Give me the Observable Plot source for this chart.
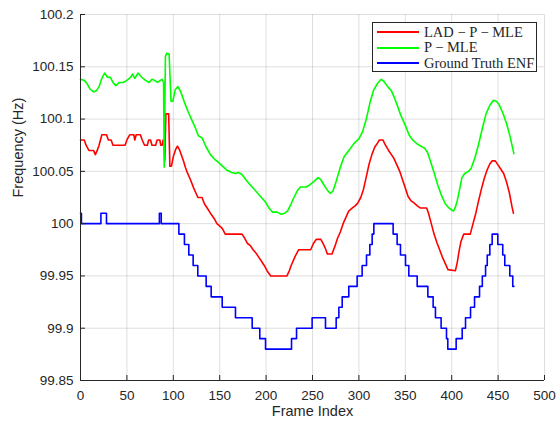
<!DOCTYPE html>
<html>
<head>
<meta charset="utf-8">
<script src="https://cdn.jsdelivr.net/npm/d3@7"></script>
<script src="https://cdn.jsdelivr.net/npm/@observablehq/plot@0.6"></script>
<style>
  html, body { margin: 0; padding: 0; background: #fff; }
  #wrap { position: relative; width: 557px; height: 423px; }
  #legend {
    position: absolute; left: 372px; top: 22px; width: 165px; height: 50px;
    border: 1px solid #262626; background: #fff; box-sizing: border-box;
    font-family: "Liberation Serif", "DejaVu Serif", serif; font-size: 14.5px; color: #262626;
  }
  .row { position: absolute; left: 0; height: 16px; display: flex; align-items: center; }
  .sw { display: inline-block; width: 42px; height: 0; border-top: 2px solid; margin-left: 4px; margin-right: 5px; }
</style>
</head>
<body>
<div id="wrap"></div>
<script>
// ---- data ----
const seriesNames = ["LAD − P − MLE", "P − MLE", "Ground Truth ENF"];
const seriesColors = ["#ff0000", "#00ff00", "#0000ff"];

const redX = [0,4,6,9,14,16,18,20,23,28,30,33,35,48,50,53,57.5,58.5,60,64.5,66.5,69,72,73.5,75.5,77,81,82.5,85.5,86.5,88,89,89.8,90.8,92,95,96.3,98,100,102.5,104.5,107,109,111,113,115,118.5,122,124,126.5,131,133.5,136.5,140,144,147,151,153,156,174,177,180,183,186,189,192,195,198,201,205,222.5,225,227,230,232,235,248,251,254,259,262,264,266,271,274,277,280,283,286,289,293,296,299,302,305,308,311,314,317,320,322,326,328,332,335,338,341,344,347,350,353,356,359,363,366,373,375,378,381,384,387,390,393,396,404,406,408,410,413,420,423,426,429,432,435,438,441,443.5,447,450,453,456,459,462,465,466.5];
const redY = [100.080,100.080,100.075,100.070,100.070,100.066,100.070,100.075,100.085,100.085,100.080,100.080,100.075,100.075,100.080,100.085,100.085,100.080,100.085,100.085,100.080,100.075,100.075,100.080,100.080,100.075,100.075,100.080,100.080,100.075,100.075,100.080,100.080,100.060,100.105,100.105,100.055,100.055,100.064,100.071,100.074,100.070,100.065,100.060,100.054,100.049,100.042,100.034,100.030,100.025,100.025,100.019,100.015,100.010,100.005,100.000,99.997,99.995,99.990,99.990,99.986,99.981,99.979,99.975,99.972,99.968,99.964,99.960,99.955,99.950,99.950,99.955,99.960,99.966,99.970,99.975,99.975,99.981,99.985,99.985,99.980,99.976,99.971,99.971,99.978,99.986,99.992,100.000,100.006,100.012,100.015,100.017,100.020,100.025,100.033,100.045,100.057,100.066,100.073,100.077,100.080,100.080,100.076,100.070,100.066,100.062,100.056,100.050,100.042,100.034,100.026,100.022,100.020,100.017,100.015,100.015,100.010,100.000,99.990,99.982,99.975,99.968,99.962,99.956,99.955,99.963,99.974,99.983,99.990,99.990,100.000,100.010,100.022,100.033,100.043,100.051,100.057,100.060,100.060,100.056,100.052,100.048,100.040,100.030,100.016,100.010];

const greenX = [0,4,7,10,14,17,20,23,26,29,32,35,38,42,46,50,54,56,58.5,62,66,70,74,77,80,83,86,88,89.5,90.2,91.5,93,95.5,97.5,99.5,102,105,108,112,116,120,124,127,131,135,140,144,148,153,158,163,167,170,174,179,185,190,195,199,203,207,212,216,220,223,227,230,234,237,243,247,251,256,259,263,266,269,272,275,280,284,290,295,300,304,308,312,316,320,324,327,331,335,338,341,345,350,354,358,363,367,371,374,377,381,385,389,393,397,400,402,404,406,409,411,414,418,421,425,429,433,437,441,445,448,451,455,459,463,467];
const greenY = [100.138,100.137,100.134,100.129,100.126,100.127,100.131,100.139,100.144,100.140,100.140,100.135,100.132,100.135,100.135,100.137,100.140,100.143,100.139,100.144,100.140,100.137,100.135,100.138,100.137,100.135,100.137,100.138,100.135,100.054,100.160,100.163,100.162,100.117,100.117,100.128,100.131,100.126,100.116,100.107,100.099,100.091,100.084,100.082,100.074,100.066,100.062,100.059,100.055,100.051,100.049,100.048,100.049,100.047,100.041,100.035,100.030,100.025,100.021,100.015,100.011,100.011,100.009,100.010,100.012,100.019,100.025,100.032,100.035,100.035,100.037,100.040,100.044,100.042,100.036,100.032,100.029,100.031,100.039,100.054,100.064,100.071,100.077,100.081,100.088,100.100,100.116,100.128,100.134,100.138,100.136,100.131,100.127,100.121,100.114,100.104,100.094,100.085,100.080,100.076,100.074,100.072,100.068,100.060,100.049,100.037,100.027,100.019,100.015,100.013,100.012,100.016,100.022,100.035,100.044,100.048,100.050,100.053,100.063,100.076,100.091,100.105,100.113,100.118,100.117,100.114,100.106,100.096,100.083,100.067];

// ground truth: step breakpoints (value holds until next frame)
const blueX = [0,1,22,28,85,87,106,112,116.7,121.4,126.4,135.4,140.8,152.7,167,185,193.2,199.4,227.4,232.8,249.6,264,275.5,278.4,282,289.1,298.1,303.5,308.2,311.8,314.3,316.1,336.9,341.2,344.8,350.2,353.8,362.8,374.3,380,382.5,388.6,394.4,395.8,404.8,411.3,414.9,420.3,424.6,430,433,436.5,438.3,441.1,443.6,449.7,455,457.2,462.6,465.8,467];
const blueY = [100.01,100,100.01,100,100.01,100,99.99,99.98,99.97,99.96,99.95,99.94,99.93,99.92,99.91,99.90,99.89,99.88,99.89,99.90,99.91,99.90,99.91,99.92,99.93,99.94,99.95,99.96,99.97,99.98,99.99,100.00,99.99,99.98,99.97,99.96,99.95,99.94,99.93,99.92,99.91,99.90,99.89,99.88,99.89,99.90,99.91,99.92,99.93,99.94,99.95,99.96,99.97,99.98,99.99,99.98,99.97,99.96,99.95,99.94,99.94];

const xTicks = [0,50,100,150,200,250,300,350,400,450,500];
const yTicks = [99.85,99.9,99.95,100,100.05,100.1,100.15,100.2];
const xLabel = "Frame Index";
const yLabel = "Frequency (Hz)";

// ---- build tables ----
const rows = (xs, ys) => xs.map((x, i) => ({x, y: ys[i]}));
const red = rows(redX, redY), green = rows(greenX, greenY), blue = rows(blueX, blueY);

const fmt = d => String(+d.toFixed(2));
const ink = "#262626";

const chart = Plot.plot({
  width: 557, height: 423,
  marginLeft: 80, marginRight: 13, marginTop: 14, marginBottom: 43,
  style: {fontFamily: "'Liberation Sans', Arial, sans-serif", fontSize: "13.5px", color: ink, background: "#fff"},
  x: {domain: [0, 500], ticks: xTicks},
  y: {domain: [99.85, 100.2], ticks: yTicks},
  marks: [
    Plot.gridX(xTicks, {stroke: "#000", strokeOpacity: 0.13}),
    Plot.gridY(yTicks, {stroke: "#000", strokeOpacity: 0.13}),
    Plot.line(red, {x: "x", y: "y", stroke: seriesColors[0], strokeWidth: 1.6}),
    Plot.line(green, {x: "x", y: "y", stroke: seriesColors[1], strokeWidth: 1.6}),
    Plot.line(blue, {x: "x", y: "y", stroke: seriesColors[2], strokeWidth: 1.6, curve: "step-after"}),
    Plot.ruleX([0], {stroke: ink}),
    Plot.ruleY([99.85], {stroke: ink}),
    Plot.axisX(xTicks, {tickSize: -5, tickPadding: 15, tickFormat: fmt, stroke: ink, fill: ink, label: null, fontSize: 13.5}),
    Plot.axisY(yTicks, {tickSize: -5, tickPadding: 12, tickFormat: fmt, stroke: ink, fill: ink, label: null, fontSize: 13.5}),
    Plot.text([xLabel], {frameAnchor: "bottom", dy: 31, fill: ink, fontSize: 14.5, lineAnchor: "middle"}),
    Plot.text([yLabel], {frameAnchor: "left", dx: -62, rotate: -90, fill: ink, fontSize: 14.5})
  ]
});

const wrap = document.getElementById("wrap");
wrap.appendChild(chart);

// legend overlay (inside the plot area, upper right)
const legend = document.createElement("div");
legend.id = "legend";
const tops = [1, 16.5, 32];
seriesNames.forEach((name, i) => {
  const r = document.createElement("div");
  r.className = "row";
  r.style.top = tops[i] + "px";
  const sw = document.createElement("span");
  sw.className = "sw";
  sw.style.borderTopColor = seriesColors[i];
  const t = document.createElement("span");
  t.textContent = name;
  r.appendChild(sw); r.appendChild(t);
  legend.appendChild(r);
});
wrap.appendChild(legend);
</script>
</body>
</html>
